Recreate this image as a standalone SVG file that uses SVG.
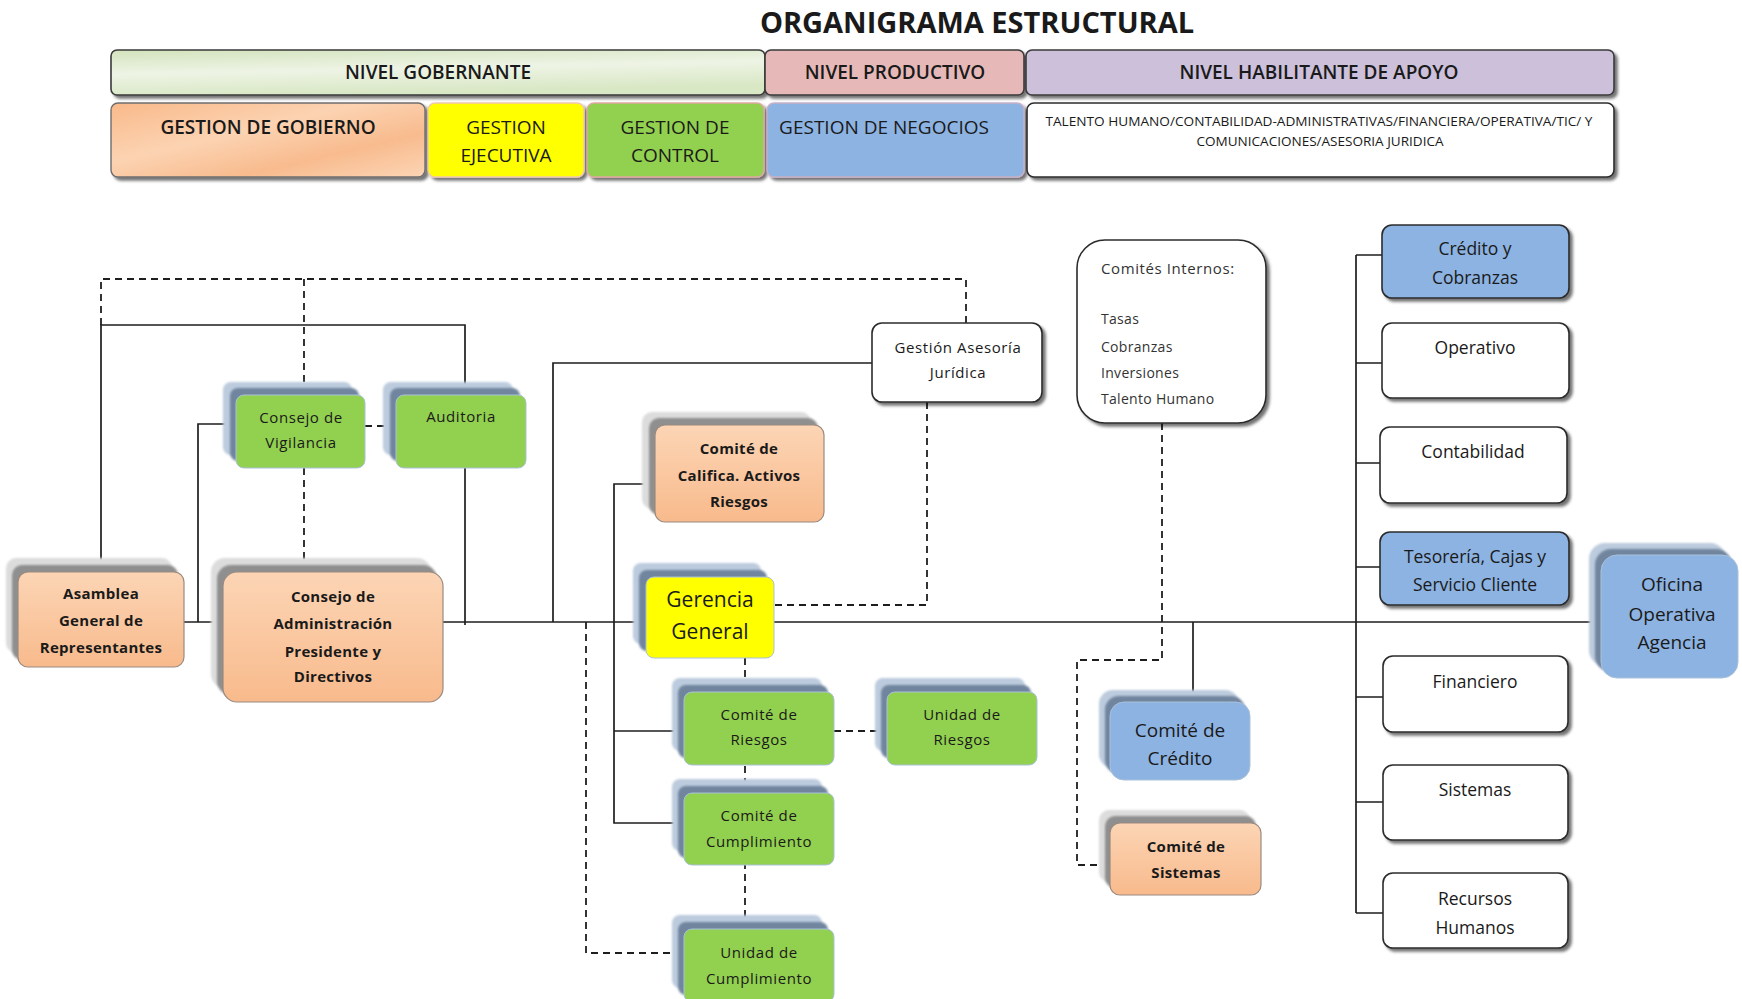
<svg xmlns="http://www.w3.org/2000/svg" width="1742" height="999" viewBox="0 0 1742 999">
<style>
text{font-family:"Open Sans","Noto Sans","Liberation Sans",sans-serif;fill:#1a1a1a;}
.hd{font-size:19px;font-weight:600;text-anchor:middle;}
.nd{font-size:15px;text-anchor:middle;letter-spacing:0.6px;}
.bd{font-size:15px;font-weight:700;text-anchor:middle;letter-spacing:0.3px;}
.rc{font-size:17.5px;text-anchor:middle;}
.ln{fill:none;stroke:#1e1e1e;stroke-width:1.7;}
.ds{fill:none;stroke:#1e1e1e;stroke-width:1.8;stroke-dasharray:7,5;}
.wb{fill:#fff;stroke:#2b2b2b;stroke-width:1.6;filter:url(#sh);}
.bb{fill:#8db3e2;stroke:#2b2b2b;stroke-width:1.6;filter:url(#sh);}
.gr{fill:#92d050;stroke:#a9c1d9;stroke-width:1;}
.bl{fill:#8db3e2;stroke:#a9c1d9;stroke-width:1;}
.or{fill:url(#og);stroke:#9a8a80;stroke-width:1.2;}
.s1{fill:#bccbdd;filter:url(#bl);}
.s2{fill:#71859f;filter:url(#bl);}
.g1{fill:#dcdcdc;filter:url(#bl);}
.g2{fill:#8f8f8f;filter:url(#bl);}
</style>
<defs>
<filter id="sh" x="-10%" y="-10%" width="130%" height="140%"><feDropShadow dx="3" dy="3" stdDeviation="1.6" flood-color="#000" flood-opacity="0.55"/></filter>
<filter id="bl" x="-10%" y="-10%" width="120%" height="120%"><feGaussianBlur stdDeviation="1.2"/></filter>
<linearGradient id="og" x1="0" y1="0" x2="0" y2="1"><stop offset="0" stop-color="#fcd5b5"/><stop offset="1" stop-color="#f8ba8c"/></linearGradient>
<linearGradient id="gg" x1="0" y1="0" x2="0.3" y2="1"><stop offset="0" stop-color="#d3e3bd"/><stop offset="0.5" stop-color="#eef4e5"/><stop offset="1" stop-color="#d8e7c4"/></linearGradient>
<linearGradient id="gob" x1="0" y1="0" x2="1" y2="1"><stop offset="0" stop-color="#f9b98a"/><stop offset="0.4" stop-color="#fcd3b2"/><stop offset="0.7" stop-color="#f8bb8e"/><stop offset="1" stop-color="#fcd5b5"/></linearGradient>
</defs>
<rect width="1742" height="999" fill="#fff"/>
<text x="977" y="33" style="font-size:29px;font-weight:700;text-anchor:middle;">ORGANIGRAMA ESTRUCTURAL</text>

<g id="header">
<rect x="111" y="50" width="654" height="45" rx="6" fill="url(#gg)" stroke="#3a3a3a" stroke-width="1.6" filter="url(#sh)"/>
<text class="hd" x="438" y="79">NIVEL GOBERNANTE</text>
<rect x="765" y="50" width="259" height="45" rx="6" fill="#e6b9b8" stroke="#3a3a3a" stroke-width="1.6" filter="url(#sh)"/>
<text class="hd" x="895" y="79">NIVEL PRODUCTIVO</text>
<rect x="1026" y="50" width="588" height="45" rx="6" fill="#ccc0da" stroke="#3a3a3a" stroke-width="1.6" filter="url(#sh)"/>
<text class="hd" x="1319" y="79">NIVEL HABILITANTE DE APOYO</text>
<rect x="111" y="103" width="314" height="74" rx="7" fill="url(#gob)" stroke="#6d6d6d" stroke-width="1.4" filter="url(#sh)"/>
<text class="hd" x="268" y="134">GESTION DE GOBIERNO</text>
<rect x="428" y="103" width="156" height="74" rx="7" fill="#ffff00" stroke="#f0c8b0" stroke-width="1.4" filter="url(#sh)"/>
<text class="hd" x="506" y="134" style="font-weight:400">GESTION</text>
<text class="hd" x="506" y="162" style="font-weight:400">EJECUTIVA</text>
<rect x="587" y="103" width="177" height="74" rx="7" fill="#92d050" stroke="#e0a8a0" stroke-width="1.4" filter="url(#sh)"/>
<text class="hd" x="675" y="134" style="font-weight:400">GESTION DE</text>
<text class="hd" x="675" y="162" style="font-weight:400">CONTROL</text>
<rect x="767" y="103" width="257" height="74" rx="7" fill="#8db3e2" stroke="#c8b0c8" stroke-width="1.4" filter="url(#sh)"/>
<text class="hd" x="884" y="134" style="font-weight:400">GESTION DE NEGOCIOS</text>
<rect x="1027" y="103" width="587" height="74" rx="7" fill="#fff" stroke="#2b2b2b" stroke-width="1.6" filter="url(#sh)"/>
<text x="1319" y="126" style="font-size:12px;text-anchor:middle;" textLength="547" lengthAdjust="spacingAndGlyphs">TALENTO HUMANO/CONTABILIDAD-ADMINISTRATIVAS/FINANCIERA/OPERATIVA/TIC/ Y</text>
<text x="1320" y="146" style="font-size:12px;text-anchor:middle;" textLength="247" lengthAdjust="spacingAndGlyphs">COMUNICACIONES/ASESORIA JURIDICA</text>
</g>

<g id="connectors">
<path class="ln" d="M101,572 V325 H465 V395"/>
<path class="ln" d="M465,468 V625"/>
<path class="ln" d="M236,424 H198 V622"/>
<path class="ln" d="M184,622 H223"/>
<path class="ln" d="M443,622 H646"/>
<path class="ln" d="M553,622 V363 H872"/>
<path class="ln" d="M655,484 H614 V823 H684"/>
<path class="ln" d="M614,731 H684"/>
<path class="ln" d="M774,622 H1601" style="stroke:#555;stroke-width:2"/>
<path class="ln" d="M1193,622 V702"/>
<path class="ln" d="M1356,255 V913"/>
<path class="ln" d="M1356,255 H1382 M1356,363 H1382 M1356,463 H1380 M1356,567 H1380 M1356,697 H1383 M1356,802 H1383 M1356,913 H1383"/>
<path class="ds" d="M101,325 V279 H966 V323"/>
<path class="ds" d="M304,279 V395 M304,468 V572"/>
<path class="ds" d="M365,426 H396"/>
<path class="ds" d="M927,402 V605 H774"/>
<path class="ds" d="M586,622 V953 H684"/>
<path class="ds" d="M745,658 V929"/>
<path class="ds" d="M834,731 H887"/>
<path class="ds" d="M1162,423 V660 H1077 V865 H1110"/>
</g>

<g id="asamblea">
<rect class="g1" x="6" y="558" width="166" height="95" rx="10"/>
<rect class="g2" x="12" y="565" width="166" height="95" rx="10"/>
<rect class="or" x="18" y="572" width="166" height="95" rx="10"/>
<text class="bd" x="101" y="599">Asamblea</text>
<text class="bd" x="101" y="626">General de</text>
<text class="bd" x="101" y="653">Representantes</text>
</g>

<g id="consejo-admin">
<rect class="g1" x="211" y="558" width="220" height="130" rx="14"/>
<rect class="g2" x="217" y="565" width="220" height="130" rx="14"/>
<rect class="or" x="223" y="572" width="220" height="130" rx="14"/>
<text class="bd" x="333" y="602">Consejo de</text>
<text class="bd" x="333" y="629">Administración</text>
<text class="bd" x="333" y="657">Presidente y</text>
<text class="bd" x="333" y="682">Directivos</text>
</g>

<g id="consejo-vigilancia">
<rect class="s1" x="223" y="382" width="129" height="73" rx="8"/>
<rect class="s2" x="230" y="388" width="129" height="73" rx="8"/>
<rect class="gr" x="236" y="395" width="129" height="73" rx="8"/>
<text class="nd" x="301" y="423">Consejo  de</text>
<text class="nd" x="301" y="448">Vigilancia</text>
</g>

<g id="auditoria">
<rect class="s1" x="383" y="382" width="130" height="73" rx="8"/>
<rect class="s2" x="390" y="388" width="130" height="73" rx="8"/>
<rect class="gr" x="396" y="395" width="130" height="73" rx="8"/>
<text class="nd" x="461" y="422">Auditoria</text>
</g>

<g id="asesoria">
<rect class="wb" x="872" y="323" width="170" height="79" rx="10"/>
<text class="nd" x="958" y="353">Gestión Asesoría</text>
<text class="nd" x="958" y="378">Jurídica</text>
</g>

<g id="comites-internos">
<rect class="wb" x="1077" y="240" width="189" height="183" rx="28"/>
<text class="nd" x="1101" y="274" style="text-anchor:start;fill:#333">Comités Internos:</text>
<text class="nd" x="1101" y="324" style="text-anchor:start;fill:#333;font-size:14px;letter-spacing:0.3px">Tasas</text>
<text class="nd" x="1101" y="352" style="text-anchor:start;fill:#333;font-size:14px;letter-spacing:0.3px">Cobranzas</text>
<text class="nd" x="1101" y="378" style="text-anchor:start;fill:#333;font-size:14px;letter-spacing:0.3px">Inversiones</text>
<text class="nd" x="1101" y="404" style="text-anchor:start;fill:#333;font-size:14px;letter-spacing:0.3px">Talento Humano</text>
</g>

<g id="califica">
<rect class="g1" x="642" y="412" width="169" height="97" rx="10"/>
<rect class="g2" x="649" y="418" width="169" height="97" rx="10"/>
<rect class="or" x="655" y="425" width="169" height="97" rx="10"/>
<text class="bd" x="739" y="454">Comité de</text>
<text class="bd" x="739" y="481">Califica. Activos</text>
<text class="bd" x="739" y="507">Riesgos</text>
</g>

<g id="gerencia">
<rect class="s1" x="633" y="563" width="128" height="81" rx="8"/>
<rect class="s2" x="639" y="570" width="128" height="81" rx="8"/>
<rect x="646" y="577" width="128" height="81" rx="8" fill="#ffff00" stroke="#a9c1d9" stroke-width="1"/>
<text x="710" y="607" style="font-size:21px;text-anchor:middle;font-weight:500">Gerencia</text>
<text x="710" y="639" style="font-size:21px;text-anchor:middle;font-weight:500">General</text>
</g>

<g id="comite-riesgos">
<rect class="s1" x="672" y="678" width="150" height="73" rx="8"/>
<rect class="s2" x="678" y="685" width="150" height="73" rx="8"/>
<rect class="gr" x="684" y="692" width="150" height="73" rx="8"/>
<text class="nd" x="759" y="720">Comité de</text>
<text class="nd" x="759" y="745">Riesgos</text>
</g>

<g id="unidad-riesgos">
<rect class="s1" x="875" y="678" width="150" height="73" rx="8"/>
<rect class="s2" x="881" y="685" width="150" height="73" rx="8"/>
<rect class="gr" x="887" y="692" width="150" height="73" rx="8"/>
<text class="nd" x="962" y="720">Unidad de</text>
<text class="nd" x="962" y="745">Riesgos</text>
</g>

<g id="comite-cumplimiento">
<rect class="s1" x="672" y="779" width="150" height="72" rx="8"/>
<rect class="s2" x="678" y="786" width="150" height="72" rx="8"/>
<rect class="gr" x="684" y="793" width="150" height="72" rx="8"/>
<text class="nd" x="759" y="821">Comité de</text>
<text class="nd" x="759" y="847">Cumplimiento</text>
</g>

<g id="unidad-cumplimiento">
<rect class="s1" x="672" y="915" width="150" height="73" rx="8"/>
<rect class="s2" x="678" y="922" width="150" height="73" rx="8"/>
<rect class="gr" x="684" y="929" width="150" height="73" rx="8"/>
<text class="nd" x="759" y="958">Unidad de</text>
<text class="nd" x="759" y="984">Cumplimiento</text>
</g>

<g id="comite-credito">
<rect class="s1" x="1099" y="690" width="140" height="78" rx="14"/>
<rect class="s2" x="1105" y="696" width="140" height="78" rx="14"/>
<rect class="bl" x="1110" y="702" width="140" height="78" rx="14"/>
<text x="1180" y="737" style="font-size:19px;text-anchor:middle">Comité de</text>
<text x="1180" y="765" style="font-size:19px;text-anchor:middle">Crédito</text>
</g>

<g id="comite-sistemas">
<rect class="g1" x="1099" y="810" width="151" height="72" rx="10"/>
<rect class="g2" x="1105" y="816" width="151" height="72" rx="10"/>
<rect class="or" x="1110" y="823" width="151" height="72" rx="10"/>
<text class="bd" x="1186" y="852">Comité de</text>
<text class="bd" x="1186" y="878">Sistemas</text>
</g>

<g id="credito-cobranzas">
<rect class="bb" x="1382" y="225" width="187" height="73" rx="10"/>
<text class="rc" x="1475" y="255">Crédito y</text>
<text class="rc" x="1475" y="284">Cobranzas</text>
</g>
<g id="operativo">
<rect class="wb" x="1382" y="323" width="187" height="75" rx="10"/>
<text class="rc" x="1475" y="354">Operativo</text>
</g>
<g id="contabilidad">
<rect class="wb" x="1380" y="427" width="187" height="76" rx="10"/>
<text class="rc" x="1473" y="458">Contabilidad</text>
</g>
<g id="tesoreria">
<rect class="bb" x="1380" y="532" width="189" height="73" rx="10"/>
<text class="rc" x="1475" y="563">Tesorería, Cajas y</text>
<text class="rc" x="1475" y="591">Servicio Cliente</text>
</g>
<g id="financiero">
<rect class="wb" x="1383" y="656" width="185" height="76" rx="10"/>
<text class="rc" x="1475" y="688">Financiero</text>
</g>
<g id="sistemas">
<rect class="wb" x="1383" y="765" width="185" height="75" rx="10"/>
<text class="rc" x="1475" y="796">Sistemas</text>
</g>
<g id="recursos-humanos">
<rect class="wb" x="1383" y="873" width="185" height="75" rx="10"/>
<text class="rc" x="1475" y="905">Recursos</text>
<text class="rc" x="1475" y="934">Humanos</text>
</g>

<g id="oficina">
<rect class="s1" x="1589" y="543" width="137" height="123" rx="16"/>
<rect class="s2" x="1595" y="549" width="137" height="123" rx="16"/>
<rect class="bl" x="1601" y="555" width="137" height="123" rx="16"/>
<text x="1672" y="591" style="font-size:19px;text-anchor:middle">Oficina</text>
<text x="1672" y="621" style="font-size:19px;text-anchor:middle">Operativa</text>
<text x="1672" y="649" style="font-size:19px;text-anchor:middle">Agencia</text>
</g>
</svg>
